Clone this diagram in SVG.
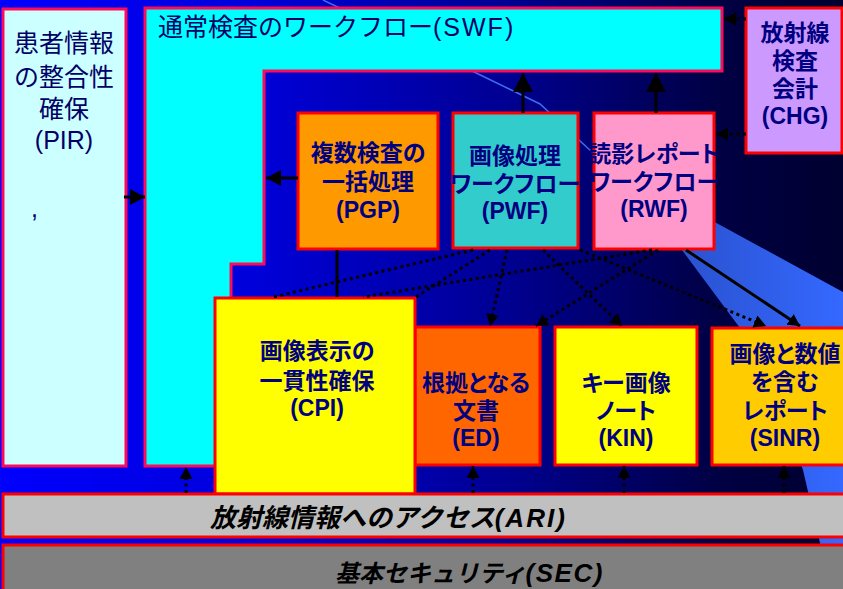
<svg xmlns="http://www.w3.org/2000/svg" width="843" height="589" viewBox="0 0 843 589">
<defs>
<linearGradient id="bg" x1="0" y1="0" x2="1" y2="0">
<stop offset="0" stop-color="#0000ff"/>
<stop offset="0.3" stop-color="#0000da"/>
<stop offset="0.6" stop-color="#000092"/>
<stop offset="0.85" stop-color="#000044"/>
<stop offset="1" stop-color="#000030"/>
</linearGradient>
<linearGradient id="beam" x1="680" y1="0" x2="843" y2="0" gradientUnits="userSpaceOnUse">
<stop offset="0" stop-color="#2a52cf"/>
<stop offset="1" stop-color="#3468ff"/>
</linearGradient>
<marker id="ah" markerUnits="userSpaceOnUse" markerWidth="13" markerHeight="13" refX="12" refY="6.5" orient="auto">
<path d="M0,0 L12,6.5 L0,13 z" fill="#000"/>
</marker>
<marker id="ahM" markerUnits="userSpaceOnUse" markerWidth="16" markerHeight="16" refX="15" refY="8" orient="auto">
<path d="M0,0 L15,8 L0,16 z" fill="#000"/>
</marker>
<marker id="ahL" markerUnits="userSpaceOnUse" markerWidth="20" markerHeight="20" refX="19" refY="10" orient="auto">
<path d="M0,0 L19,10 L0,20 z" fill="#000"/>
</marker>
</defs>
<style>
.box{stroke:#ff0000;stroke-width:3}
.pbox{stroke:#ff0a5a;stroke-width:3}
.lbl{font-family:"Liberation Sans","Noto Sans CJK JP",sans-serif;font-weight:bold;font-size:23px;fill:#000080;text-anchor:middle;font-feature-settings:"palt"}
.reg{font-family:"Liberation Sans","Noto Sans CJK JP",sans-serif;font-size:25px;fill:#000066}
.bar{font-family:"Noto Sans CJK JP",sans-serif;font-weight:bold;font-style:italic;fill:#000}
.lat{font-family:"Liberation Sans",sans-serif;font-weight:bold;font-style:italic;font-size:26px}
.dot{fill:none;stroke:#000;stroke-width:3;stroke-dasharray:3 3.5}
.sol{fill:none;stroke:#000;stroke-width:3}
</style>

<rect x="0" y="0" width="843" height="589" fill="url(#bg)"/>
<polygon points="700,214 843,292 843,589 826,589 820,543 803,470 775,395 740,328 682,250" fill="url(#beam)"/>
<path d="M323,0 L470,70 L540,104 L592,152" fill="none" stroke="#3c6cf0" stroke-width="1.5"/>

<g id="PIR">
<rect class="pbox" x="3" y="9" width="123" height="457" fill="#ccffff"/>
<text class="reg" text-anchor="middle" x="64" y="52">患者情報</text>
<text class="reg" text-anchor="middle" x="64" y="86">の整合性</text>
<text class="reg" text-anchor="middle" x="64" y="118">確保</text>
<text class="reg" text-anchor="middle" x="64" y="149">(PIR)</text>
<text class="reg" x="31" y="217">,</text>
</g>

<g id="SWF">
<polygon class="pbox" points="145,8 722,8 722,71 264,71 264,264 231,264 231,466 145,466" fill="#00ffff"/>
<text class="reg" x="158" y="36">通常検査のワークフロー<tspan letter-spacing="2">(SWF)</tspan></text>
</g>

<g id="CHG">
<rect class="box" x="746" y="8" width="96" height="145" fill="#cc99ff"/>
<text class="lbl" x="795" y="41">放射線</text>
<text class="lbl" x="795" y="69">検査</text>
<text class="lbl" x="795" y="97">会計</text>
<text class="lbl" x="795" y="124">(CHG)</text>
</g>

<g id="PGP">
<rect class="box" x="298" y="113" width="140" height="136" fill="#ff9900"/>
<text class="lbl" x="368" y="161">複数検査の</text>
<text class="lbl" x="368" y="190">一括処理</text>
<text class="lbl" x="368" y="218">(PGP)</text>
</g>

<g id="PWF">
<rect class="box" x="453" y="113" width="125" height="135" fill="#33cccc"/>
<text class="lbl" x="515" y="164">画像処理</text>
<text class="lbl" x="515" y="192">ワークフロー</text>
<text class="lbl" x="515" y="219">(PWF)</text>
</g>

<g id="RWF">
<rect class="box" x="594" y="113" width="120" height="136" fill="#ff99cc"/>
<text class="lbl" x="654" y="162">読影レポート</text>
<text class="lbl" x="654" y="190">ワークフロー</text>
<text class="lbl" x="654" y="217">(RWF)</text>
</g>

<g id="ED">
<rect class="box" x="415" y="327" width="125" height="138" fill="#ff6600"/>
<text class="lbl" x="476" y="391">根拠となる</text>
<text class="lbl" x="476" y="419">文書</text>
<text class="lbl" x="476" y="446">(ED)</text>
</g>

<g id="KIN">
<rect class="box" x="555" y="327" width="142" height="138" fill="#ffff00"/>
<text class="lbl" x="626" y="391">キー画像</text>
<text class="lbl" x="626" y="419">ノート</text>
<text class="lbl" x="626" y="446">(KIN)</text>
</g>

<g id="SINR">
<rect class="box" x="712" y="328" width="140" height="137" fill="#ffcc00"/>
<text class="lbl" x="785" y="362">画像と数値</text>
<text class="lbl" x="785" y="390">を含む</text>
<text class="lbl" x="785" y="419">レポート</text>
<text class="lbl" x="785" y="446">(SINR)</text>
</g>

<g id="CPI">
<rect class="box" x="215" y="298" width="200" height="196" fill="#ffff00"/>
<text class="lbl" x="317" y="359">画像表示の</text>
<text class="lbl" x="317" y="389">一貫性確保</text>
<text class="lbl" x="317" y="416">(CPI)</text>
</g>

<g id="ARI">
<rect class="box" x="3" y="494" width="850" height="43" fill="#c0c0c0"/>
<text class="bar" x="210" y="527" font-size="26">放射線情報へのアクセス<tspan class="lat" letter-spacing="2">(ARI)</tspan></text>
</g>

<g id="SEC">
<rect class="box" x="3" y="545" width="850" height="50" fill="#808080"/>
<text class="bar" x="335" y="582" font-size="24">基本セキュリティ<tspan class="lat" letter-spacing="1.5">(SEC)</tspan></text>
</g>

<g id="connectors">
<line class="sol" x1="124" y1="197" x2="145" y2="197" marker-end="url(#ahM)"/>
<line class="sol" x1="298" y1="178" x2="266" y2="178" marker-end="url(#ahM)"/>
<line class="sol" x1="523" y1="113" x2="523" y2="73" stroke-width="5" marker-end="url(#ahL)"/>
<line class="sol" x1="656" y1="113" x2="656" y2="73" stroke-width="5" marker-end="url(#ahL)"/>
<line class="dot" x1="746" y1="19" x2="724" y2="19" marker-end="url(#ah)"/>
<line class="dot" x1="746" y1="134" x2="716" y2="134" marker-end="url(#ah)"/>
<line class="sol" x1="337" y1="250" x2="337" y2="297"/>
<line class="dot" x1="473" y1="250" x2="273" y2="297"/>
<line class="dot" x1="490" y1="250" x2="416" y2="297"/>
<line class="dot" x1="652" y1="250" x2="363" y2="297"/>
<line class="dot" x1="507" y1="250" x2="490" y2="326" marker-end="url(#ah)"/>
<line class="dot" x1="543" y1="250" x2="622" y2="326" marker-end="url(#ah)"/>
<line class="dot" x1="580" y1="250" x2="766" y2="326" marker-end="url(#ah)"/>
<line class="dot" x1="658" y1="250" x2="536" y2="326" marker-end="url(#ah)"/>
<line class="sol" x1="686" y1="250" x2="800" y2="326" stroke-width="2.5" marker-end="url(#ah)"/>
<line class="dot" x1="186" y1="493" x2="186" y2="467" marker-end="url(#ah)"/>
<line class="dot" x1="473" y1="493" x2="473" y2="466" marker-end="url(#ah)"/>
<line class="dot" x1="624" y1="493" x2="624" y2="466" marker-end="url(#ah)"/>
<line class="dot" x1="784" y1="493" x2="784" y2="466" marker-end="url(#ah)"/>
</g>
</svg>
